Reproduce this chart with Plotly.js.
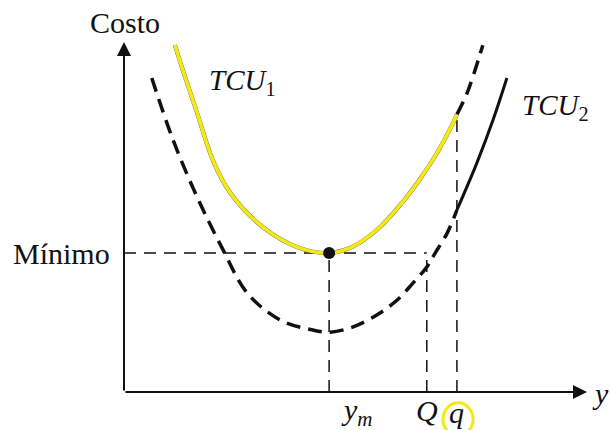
<!DOCTYPE html>
<html>
<head>
<meta charset="utf-8">
<script src="https://cdn.plot.ly/plotly-3.0.1.min.js"></script>
<style>
  body { margin: 0; background: #fff; }
  #chart { width: 610px; height: 430px; }
</style>
</head>
<body>
<div id="chart"></div>
<script>
// values (abstract units, axes 0..10)
var ym = 4.43;        // optimum order size
var bigQ = 6.54;      // Q
var smallQ = 7.19;    // q (price break)
var minimo = 3.97;    // minimum cost of TCU1

// TCU1, solid (highlighted) part for y <= q
var tcu1X = [1.10, 1.27, 1.58, 1.92, 2.29, 3.00, 3.74, 4.43, 4.95, 5.50, 6.00, 6.39, 6.76, 7.11, 7.19];
var tcu1Y = [9.91, 9.20, 7.97, 6.62, 5.70, 4.71, 4.14, 3.97, 4.16, 4.68, 5.40, 6.08, 6.83, 7.69, 7.93];
// TCU1, dashed part for y > q
var tcu1DashX = [7.19, 7.41, 7.75];
var tcu1DashY = [7.93, 8.54, 9.91];

// TCU2, dashed part for y < q
var tcu2DashX = [0.60, 1.06, 1.58, 2.14, 2.66, 3.37, 4.08, 4.45, 4.95, 5.46, 5.90, 6.24, 6.54, 6.72, 6.98, 7.19];
var tcu2DashY = [8.97, 7.20, 5.57, 4.06, 2.83, 2.06, 1.77, 1.71, 1.86, 2.20, 2.63, 3.11, 3.57, 3.97, 4.54, 5.20];
// TCU2, solid part for y >= q
var tcu2X = [7.19, 7.62, 7.97, 8.27];
var tcu2Y = [5.20, 6.54, 7.77, 8.97];

var serif = "Liberation Serif, Times New Roman, serif";
var ink = "#111";
var yellow = "#f4ea12";

var thinDash = {color: ink, width: 1.5, dash: "12px,8px"};

var data = [
  // guide lines
  {x: [0, bigQ], y: [minimo, minimo], mode: "lines", line: thinDash},
  {x: [ym, ym], y: [0, minimo], mode: "lines", line: thinDash},
  {x: [bigQ, bigQ], y: [0, minimo], mode: "lines", line: thinDash},
  {x: [smallQ, smallQ], y: [0, tcu1Y[tcu1Y.length - 1]], mode: "lines", line: thinDash},
  // TCU2
  {x: tcu2DashX, y: tcu2DashY, mode: "lines", line: {color: ink, width: 3.5, dash: "14px,8px", shape: "spline"}},
  {x: tcu2X, y: tcu2Y, mode: "lines", line: {color: ink, width: 3, shape: "spline"}},
  // TCU1
  {x: tcu1DashX, y: tcu1DashY, mode: "lines", line: {color: ink, width: 3.5, dash: "14px,8px", shape: "spline"}},
  {x: tcu1X, y: tcu1Y, mode: "lines", line: {color: "#666", width: 4.2, shape: "spline"}},
  {x: tcu1X, y: tcu1Y, mode: "lines", line: {color: yellow, width: 3.6, shape: "spline"}},
  // minimum point
  {x: [ym], y: [minimo], mode: "markers", marker: {color: ink, size: 12}}
];

// plot area runs 124..587 px across and 42..392 px down
function label(x, y, text, size, anchor) {
  return {x: x, y: y, xref: "paper", yref: "paper", text: text, showarrow: false,
    xanchor: anchor || "center", yanchor: "middle",
    font: {family: serif, size: size, color: ink}};
}

var layout = {
  width: 610,
  height: 430,
  margin: {l: 124, r: 23, t: 42, b: 38},
  paper_bgcolor: "#fff",
  plot_bgcolor: "#fff",
  showlegend: false,
  xaxis: {range: [0, 10], visible: false, fixedrange: true},
  yaxis: {range: [0, 10], visible: false, fixedrange: true},
  annotations: [
    // axes with arrow heads
    {x: 0, y: 10, ax: 0, ay: 0, xref: "x", yref: "y", axref: "x", ayref: "y", text: "",
      showarrow: true, arrowhead: 2, arrowsize: 1.4, arrowwidth: 2, arrowcolor: ink},
    {x: 10, y: 0, ax: 0, ay: 0, xref: "x", yref: "y", axref: "x", ayref: "y", text: "",
      showarrow: true, arrowhead: 2, arrowsize: 1.4, arrowwidth: 2, arrowcolor: ink},
    label(0.002, 1.057, "Costo", 30),
    label(-0.026, 0.397, "Mínimo", 30, "right"),
    label(0.179, 0.885, "<i>TCU</i><sub>1</sub>", 29, "left"),
    label(0.855, 0.815, "<i>TCU</i><sub>2</sub>", 29, "left"),
    label(1.03, -0.003, "<i>y</i>", 30),
    label(0.464, -0.058, "<i>y<sub>m</sub></i>", 30, "left"),
    label(0.654, -0.052, "<i>Q</i>", 30),
    label(0.719, -0.058, "<i>q</i>", 30)
  ],
  shapes: [
    // yellow circle around q
    {type: "circle", xref: "paper", yref: "paper",
      x0: 0.689, x1: 0.754, y0: -0.125, y1: -0.031,
      line: {color: yellow, width: 3}}
  ]
};

Plotly.newPlot("chart", data, layout, {staticPlot: true});
</script>
</body>
</html>
